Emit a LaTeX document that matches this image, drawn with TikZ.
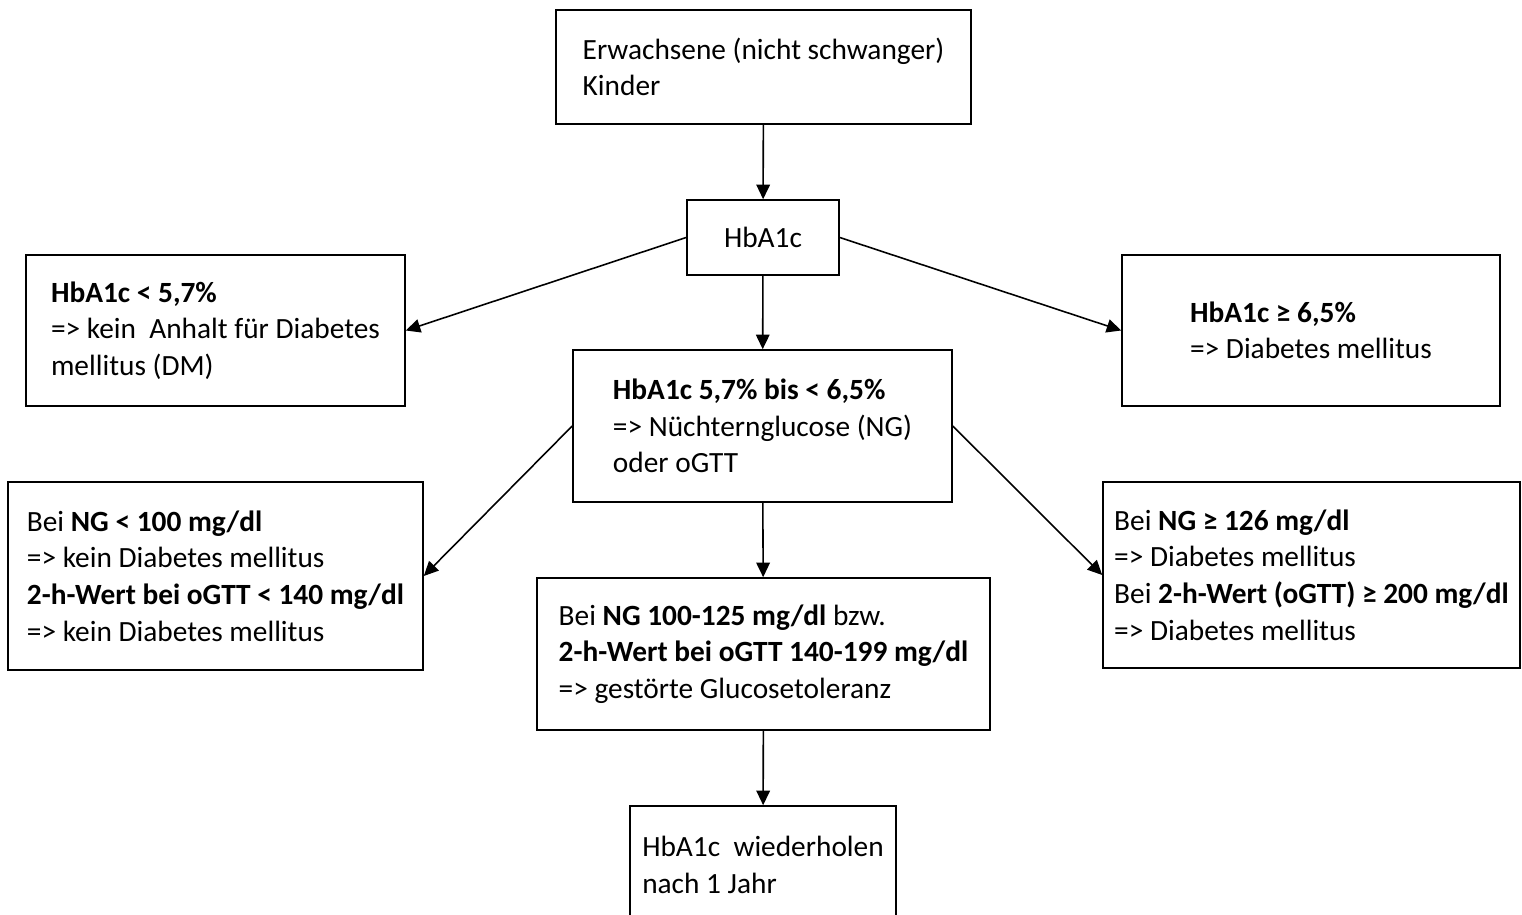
\documentclass[tikz,border=0pt]{standalone}
\usepackage{fontspec}
\setmainfont{Carlito}
\usetikzlibrary{arrows.meta}
\tikzset{
  box/.style={draw, line width=0.9pt, align=left, inner sep=0pt,
    font=\fontsize{16.7}{20.8}\selectfont},
  pfeil/.style={line width=0.9pt, -{Triangle[length=0.29cm,width=0.27cm]}}
}
\begin{document}
\begin{tikzpicture}
\useasboundingbox (0,0) rectangle (30.44,-18.3);

\node[box, minimum width=8.3cm, minimum height=2.28cm] (start) at (15.27,-1.34)
  {Erwachsene (nicht schwanger)\\Kinder};
\node[box, minimum width=3.04cm, minimum height=1.5cm] (hba) at (15.26,-4.75)
  {HbA1c};
\node[box, minimum width=7.58cm, minimum height=3.02cm] (niedrig) at (4.31,-6.61)
  {\textbf{HbA1c < 5,7\%}\\=> kein~ Anhalt für Diabetes\\mellitus (DM)};
\node[box, minimum width=7.56cm, minimum height=3.02cm] (hoch) at (26.22,-6.61)
  {\textbf{HbA1c ≥ 6,5\%}\\=> Diabetes mellitus};
\node[box, minimum width=7.58cm, minimum height=3.04cm] (grenz) at (15.25,-8.52)
  {\textbf{HbA1c 5,7\% bis < 6,5\%}\\=> Nüchternglucose (NG)\\oder oGTT};
\node[box, minimum width=8.3cm, minimum height=3.76cm] (ngnied) at (4.31,-11.52)
  {Bei \textbf{NG < 100 mg/dl}\\=> kein Diabetes mellitus\\\textbf{2-h-Wert bei oGTT < 140 mg/dl}\\=> kein Diabetes mellitus};
\node[box, minimum width=9.06cm, minimum height=3.04cm] (ngmitte) at (15.27,-13.08)
  {Bei \textbf{NG 100-125 mg/dl} bzw.\\\textbf{2-h-Wert bei oGTT 140-199 mg/dl}\\=> gestörte Glucosetoleranz};
\node[box, minimum width=8.34cm, minimum height=3.72cm] (nghoch) at (26.23,-11.5)
  {Bei \textbf{NG ≥ 126 mg/dl}\\=> Diabetes mellitus\\Bei \textbf{2-h-Wert (oGTT) ≥ 200 mg/dl}\\=> Diabetes mellitus};
\node[box, minimum width=5.32cm, minimum height=2.36cm] (wdh) at (15.26,-17.3)
  {HbA1c~ wiederholen\\nach 1 Jahr};

\draw[pfeil] (start) -- (hba);
\draw[pfeil] (hba.west) -- (niedrig.east);
\draw[pfeil] (hba.east) -- (hoch.west);
\draw[pfeil] (hba) -- (grenz);
\draw[pfeil] (grenz.west) -- (ngnied.east);
\draw[pfeil] (grenz.east) -- (nghoch.west);
\draw[pfeil] (grenz) -- (ngmitte);
\draw[pfeil] (ngmitte) -- (wdh);
\end{tikzpicture}
\end{document}
